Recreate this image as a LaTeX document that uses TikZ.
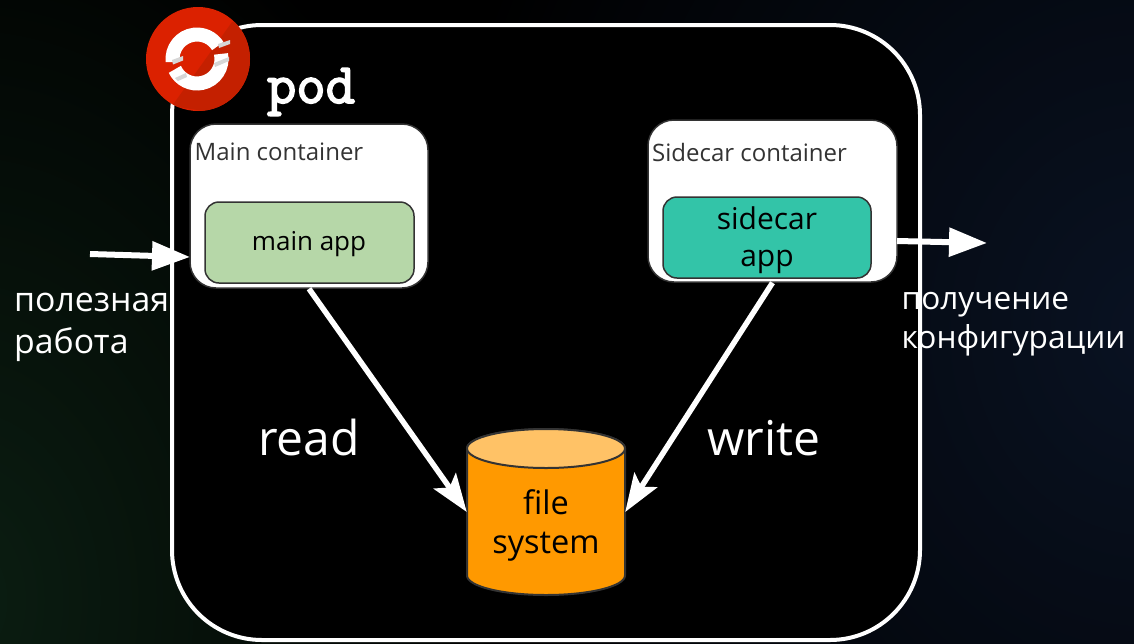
\documentclass[tikz,border=0pt]{standalone}
\usepackage{fontspec}
\setmainfont{Open Sans}
\newfontfamily\podfont[FakeBold=3]{Latin Modern Mono}
\usetikzlibrary{arrows.meta}
\definecolor{edgegrey}{HTML}{333333}
\definecolor{appgreen}{HTML}{B6D7A8}
\definecolor{appteal}{HTML}{33C4A8}
\definecolor{fsorange}{HTML}{FF9900}
\definecolor{fstop}{HTML}{FFC266}
\definecolor{logolight}{HTML}{DB2100}
\definecolor{logodark}{HTML}{C42000}
\tikzset{
  x=1pt,y=-1pt,
  podbox/.style={draw=white,line width=4pt,fill=black,rounded corners=90pt,minimum width=748pt,minimum height=615pt,inner sep=0pt},
  contbox/.style={draw=edgegrey,line width=1.5pt,fill=white,rounded corners=26pt,inner sep=0pt},
  appbox/.style={draw=edgegrey,line width=1.5pt,rounded corners=14pt,minimum width=209pt,minimum height=81pt,inner sep=0pt},
  applabel/.style={inner sep=0pt,text=black,align=center},
  contlabel/.style={anchor=west,inner sep=0pt,text=edgegrey,font=\fontsize{24}{28}\selectfont},
  lefttext/.style={text=white,anchor=base west,inner sep=0pt,font=\fontsize{33.8}{34}\selectfont},
  righttext/.style={text=white,anchor=base west,inner sep=0pt,font=\fontsize{31.6}{34}\selectfont},
  bigtext/.style={text=white,anchor=base,inner sep=0pt,font=\fontsize{48}{48}\selectfont},
  flow/.style={draw=white,line width=5.5pt},
  triflow/.style={flow,line width=6pt,-{Triangle[length=38pt,width=28pt]}},
  stealthflow/.style={flow,-{Stealth[length=38pt,width=27pt,inset=8pt]}},
  cylbody/.style={draw=edgegrey,line width=2pt},
  ringarc/.style={white,line width=14pt},
  ringshade/.style={fill=white!84!black},
}
\begin{document}
\begin{tikzpicture}
\useasboundingbox (0,0) rectangle (1134,643);
\fill[black] (0,0) rectangle (1134,643);
\begin{scope}
  \clip (0,0) rectangle (1134,643);
  \shade[inner color={rgb,255:red,11;green,30;blue,18},outer color=black] (-40,600) circle[x radius=560pt,y radius=760pt];
  \shade[inner color={rgb,255:red,9;green,18;blue,34},outer color=black] (1150,330) circle[x radius=720pt,y radius=820pt];
\end{scope}

\node[podbox] (pod) at (546,332.5) {};

\node[contbox,minimum width=238pt,minimum height=164pt] (maincont) at (309,206) {};
\node[contbox,minimum width=249pt,minimum height=162pt] (sidecont) at (772.5,201) {};
\node[contlabel] (mainlabel) at (194.5,152) {Main container};
\node[contlabel] (sidelabel) at (652,152) {Sidecar container};
\node[appbox,fill=appgreen] (mainapp) at (309.5,242.5) {};
\node[appbox,fill=appteal,minimum width=208pt] (sideapp) at (767,237.5) {};
\node[applabel,font=\fontsize{26}{30}\selectfont] (mainapptext) at (309,244.5) {main app};
\node[applabel,font=\fontsize{30}{37}\selectfont] (sideapptext) at (767,240.5) {sidecar\\app};

% file system cylinder
\node[minimum width=158pt,minimum height=166pt,inner sep=0pt] (fs) at (546,512) {};
\path[cylbody,fill=fsorange] (467,448.5) -- (467,575.5) arc[start angle=180,end angle=360,x radius=79pt,y radius=19.5pt] -- (625,448.5) arc[start angle=0,end angle=180,x radius=79pt,y radius=19.5pt] -- cycle;
\draw[cylbody,fill=fstop] (546,448.5) ellipse[x radius=79pt,y radius=19.5pt];
\node[text=black,align=center,inner sep=0pt,font=\fontsize{32.5}{39}\selectfont] (fslabel) at (546,525.5) {file\\system};

\coordinate (inflow) at (90,254);
\coordinate (inhit) at (190,257);
\coordinate (outstart) at (897,241);
\coordinate (outflow) at (987,243);
\draw[triflow] (inflow) -- (inhit);
\draw[triflow] (outstart) -- (outflow);
\draw[stealthflow] (maincont.south) -- (fs.west);
\draw[stealthflow] (sidecont.south) -- (fs.east);

\node[lefttext] (work1) at (14,311) {полезная};
\node[lefttext] (work2) at (14,353) {работа};
\node[righttext] (conf1) at (901.5,309) {получение};
\node[righttext] (conf2) at (901.5,348) {конфигурации};
\node[bigtext] (readlabel) at (309,455) {read};
\node[bigtext] (writelabel) at (764,455) {write};
\node[text=white,anchor=base,inner sep=0pt,font=\podfont\fontsize{57}{57}\selectfont] (podlabel) at (311,103) {pod};

% logo
\begin{scope}
  \clip (198,59) circle[radius=52pt];
  \fill[logolight] (140,0) rectangle (260,120);
  \fill[logodark] (232,22) -- (172,106) -- (260,120) -- (260,22) -- cycle;
\end{scope}
\draw[ringarc] (172.7,62) arc[start angle=187,end angle=32,radius=24.5pt];
\draw[ringarc] (221,53.9) arc[start angle=12,end angle=-155,radius=24.5pt];
\fill[ringshade] (172,60) -- (183,56) -- (183,60.5) -- (173,64.5) -- cycle;
\fill[ringshade] (218,44) -- (230,40) -- (230,44) -- (219,48) -- cycle;
\fill[ringshade] (175,78) -- (186,73) -- (187,77) -- (178,81) -- cycle;
\fill[ringshade] (214,63) -- (229,57) -- (229,61) -- (215,67) -- cycle;
\end{tikzpicture}
\end{document}
